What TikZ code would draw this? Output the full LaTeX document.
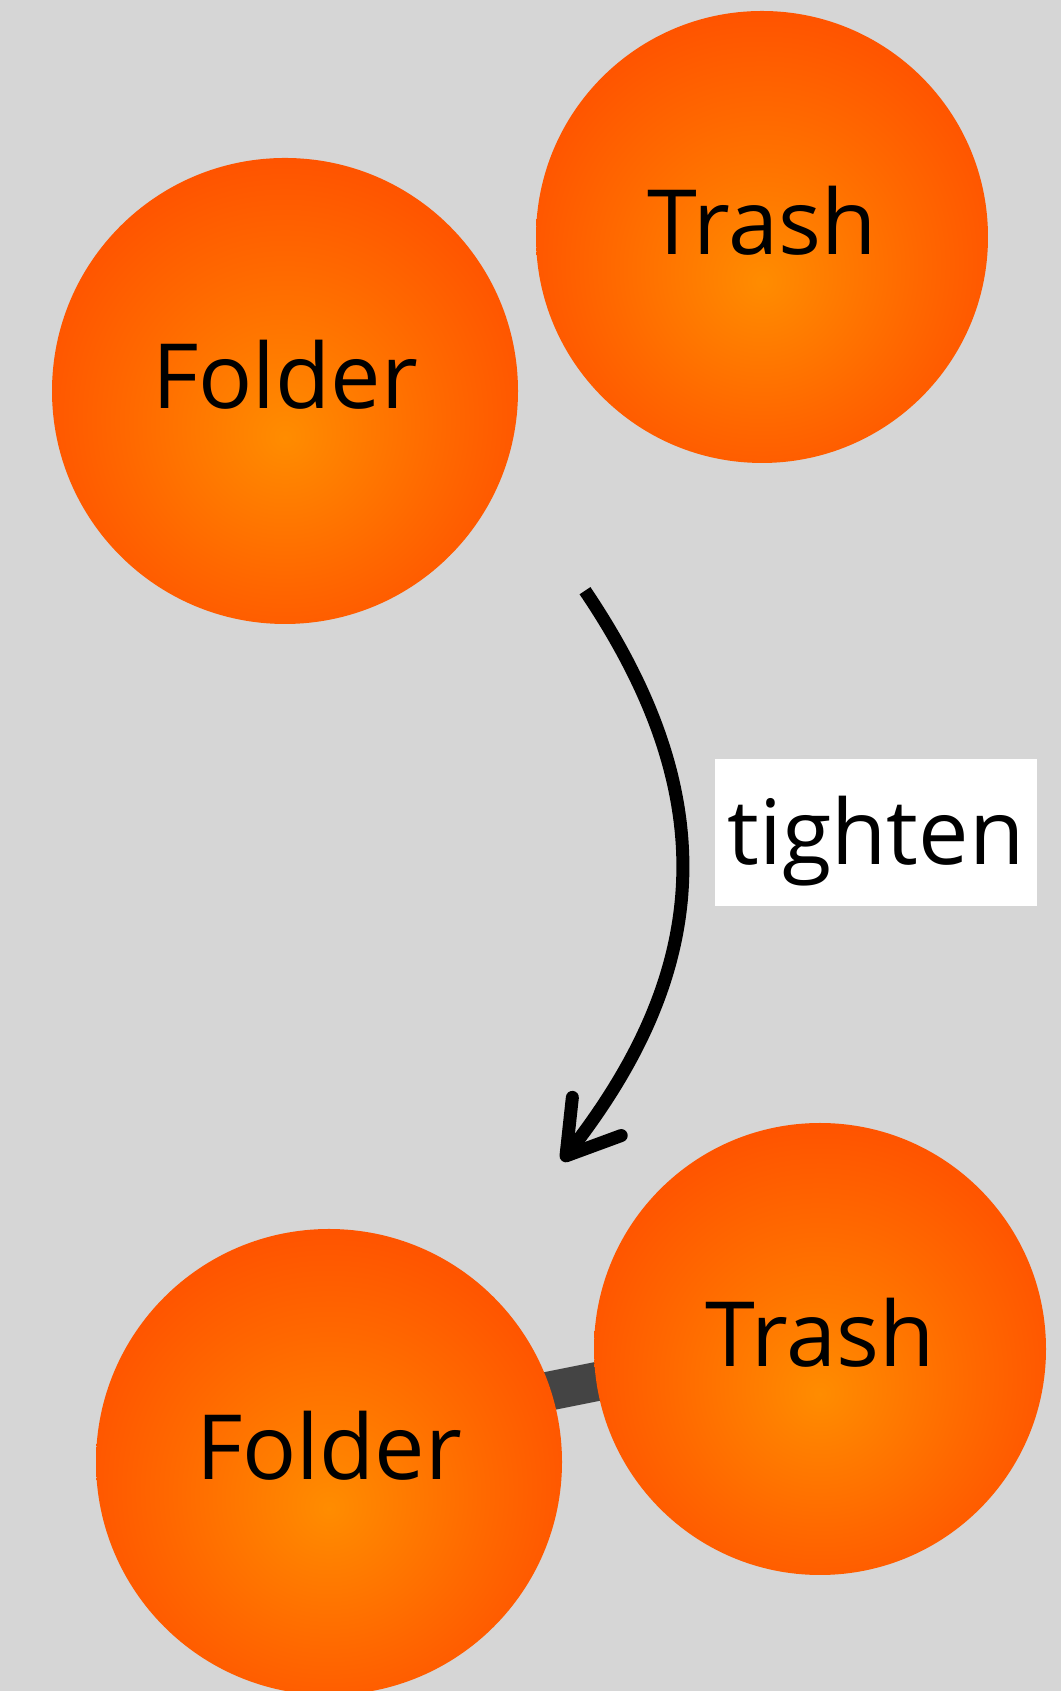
\documentclass[tikz,border=0pt]{standalone}
\usepackage{fontspec}
\setmainfont{Open Sans}
\usetikzlibrary{arrows.meta}
\usetikzlibrary{calc}
\definecolor{bggray}{HTML}{D6D6D6}
\definecolor{ballcore}{HTML}{FF8C00}
\definecolor{ballmid}{HTML}{FF6800}
\definecolor{ballrim}{HTML}{FF4E00}
\definecolor{linkgray}{HTML}{444444}
\pgfdeclareradialshading{orangeball}{\pgfpoint{0bp}{-5bp}}{color(0bp)=(ballcore); color(17bp)=(ballmid); color(30bp)=(ballrim); color(50bp)=(ballrim)}
\pgfdeclarelayer{back}
\pgfdeclarelayer{edges}
\pgfsetlayers{back,edges,main}

\begin{document}
\begin{tikzpicture}[x=1pt,y=1pt,
	ball/.style={circle,shade,shading=orangeball,inner sep=0pt,
		font=\fontsize{90}{90}\selectfont,text height=68pt,text depth=32pt},
	bigball/.style={ball,minimum size=466pt},
	smallball/.style={ball,minimum size=452pt},
	tagbox/.style={fill=white,inner sep=0pt,minimum width=322pt,minimum height=147pt,
		font=\fontsize{90}{90}\selectfont,text height=86pt,text depth=22pt}]
	\useasboundingbox (0,0) rectangle (1061,1691);
	\begin{pgfonlayer}{back}
		\fill[bggray] (0,0) rectangle (1061,1691);
	\end{pgfonlayer}

	% before
	\node[bigball]   (F1) at (285,1300) {Folder};
	\node[smallball] (T1) at (762,1454) {Trash};

	% after
	\node[bigball]   (F2) at (329,229) {Folder};
	\node[smallball] (T2) at (820,342) {Trash};

	\node[tagbox] (tighten) at (876,858.5) {tighten};

	\coordinate (from) at (585,1100.3);
	\coordinate (to)   at (562,530);
	\draw[line width=13pt,-{Straight Barb[length=50pt,width=62pt,line width=13pt,round]}]
		(from) to[out=-56,in=52,looseness=1.1] (to);

	\begin{pgfonlayer}{edges}
		\draw[linkgray,line width=39pt] ($(F2.center)+(0,27)$) -- ($(T2.center)+(0,12)$);
	\end{pgfonlayer}
\end{tikzpicture}
\end{document}
